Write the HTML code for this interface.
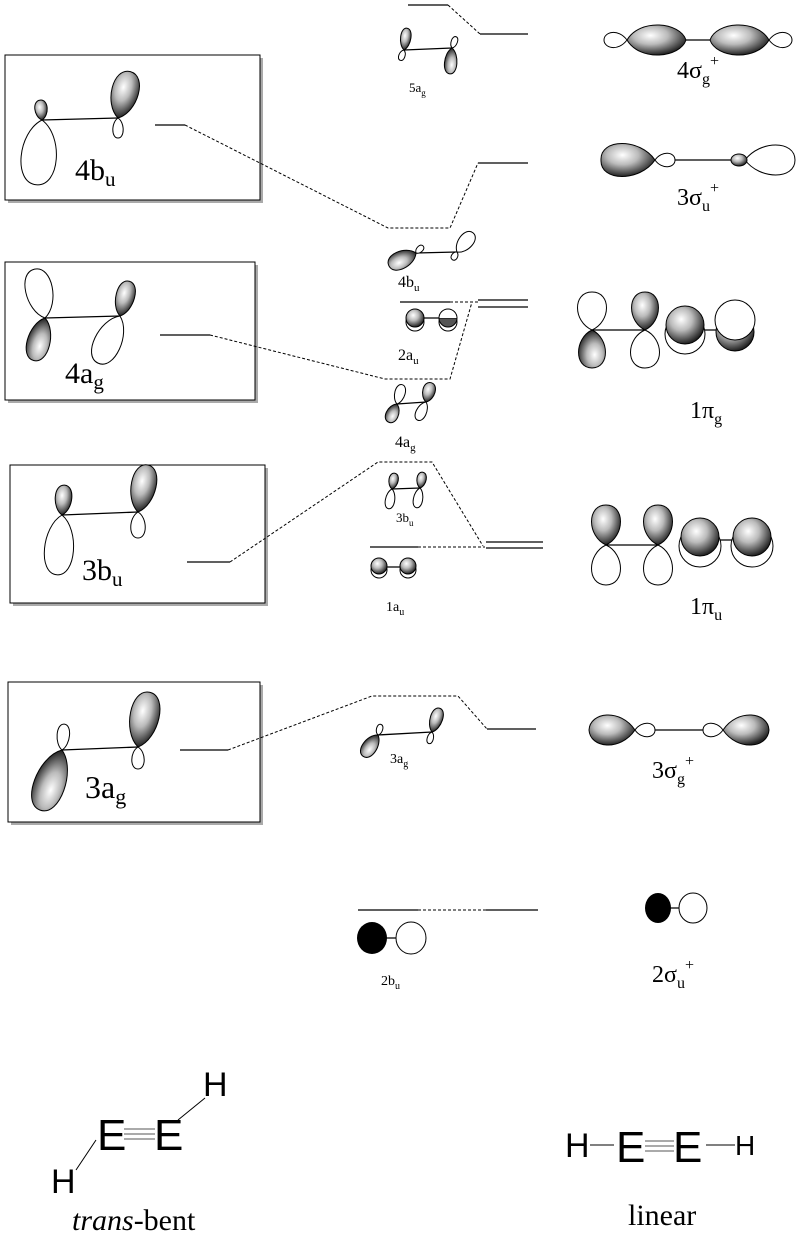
<!DOCTYPE html>
<html><head><meta charset="utf-8"><style>
html,body{margin:0;padding:0;background:#fff}
svg{display:block}
text{font-family:"Liberation Serif",serif;fill:#000}
.s{font-family:"Liberation Sans",sans-serif}
</style></head><body>
<svg width="800" height="1239" viewBox="0 0 800 1239" xmlns="http://www.w3.org/2000/svg">
<defs>
<radialGradient id="g" cx="40%" cy="35%" r="65%">
<stop offset="0" stop-color="#fff"/><stop offset="0.45" stop-color="#bbb"/><stop offset="1" stop-color="#222"/>
</radialGradient>
<path id="L" vector-effect="non-scaling-stroke" d="M0,0 C0.68,-0.22 0.7,-1 0,-1 C-0.7,-1 -0.68,-0.22 0,0Z"/>
</defs>
<style>
.f{fill:url(#g);stroke:#000;stroke-width:1}
.o{fill:#fff;stroke:#000;stroke-width:1}
.l{stroke:#000;stroke-width:1.3;fill:none}
.d{stroke:#000;stroke-width:1;stroke-dasharray:3,2;fill:none}
.bx{fill:#fff;stroke:#000;stroke-width:1}
</style>

<rect x="8" y="58" width="255" height="145" fill="#aaa"/><rect x="5" y="55" width="255" height="145" class="bx"/>
<rect x="8" y="265" width="250" height="138" fill="#aaa"/><rect x="5" y="262" width="250" height="138" class="bx"/>
<rect x="13" y="468" width="255" height="138" fill="#aaa"/><rect x="10" y="465" width="255" height="138" class="bx"/>
<rect x="11" y="685" width="252" height="140" fill="#aaa"/><rect x="8" y="682" width="252" height="140" class="bx"/>

<!-- Box 4bu -->
<line x1="42" y1="120" x2="118" y2="118" class="l"/>
<use href="#L" class="o" transform="translate(42,120) rotate(185) scale(34,65)"/>
<use href="#L" class="f" transform="translate(42,120) rotate(-5) scale(12,20)"/>
<use href="#L" class="o" transform="translate(118,118) rotate(180) scale(10,20)"/>
<use href="#L" class="f" transform="translate(118,118) rotate(15) scale(26,48)"/>
<text x="75" y="180" font-size="30">4b<tspan font-size="21" dy="6">u</tspan></text>

<!-- Box 4ag -->
<line x1="45" y1="318" x2="120" y2="316" class="l"/>
<use href="#L" class="o" transform="translate(45,318) rotate(-12) scale(26,50)"/>
<use href="#L" class="f" transform="translate(45,318) rotate(195) scale(22,44)"/>
<use href="#L" class="f" transform="translate(120,316) rotate(15) scale(18,36)"/>
<use href="#L" class="o" transform="translate(120,316) rotate(205) scale(26,52)"/>
<text x="65" y="383" font-size="30">4a<tspan font-size="21" dy="6">g</tspan></text>

<!-- Box 3bu -->
<line x1="62" y1="515" x2="138" y2="512" class="l"/>
<use href="#L" class="f" transform="translate(62,515) rotate(5) scale(16,30)"/>
<use href="#L" class="o" transform="translate(62,515) rotate(185) scale(28,60)"/>
<use href="#L" class="f" transform="translate(138,512) rotate(12) scale(24,48)"/>
<use href="#L" class="o" transform="translate(138,512) rotate(180) scale(14,26)"/>
<text x="82" y="580" font-size="30">3b<tspan font-size="21" dy="6">u</tspan></text>

<!-- Box 3ag -->
<line x1="62" y1="750" x2="138" y2="747" class="l"/>
<use href="#L" class="o" transform="translate(62,750) rotate(5) scale(12,26)"/>
<use href="#L" class="f" transform="translate(62,750) rotate(200) scale(30,64)"/>
<use href="#L" class="f" transform="translate(138,747) rotate(12) scale(28,56)"/>
<use href="#L" class="o" transform="translate(138,747) rotate(180) scale(12,22)"/>
<text x="85" y="798" font-size="32">3a<tspan font-size="22" dy="6">g</tspan></text>

<!-- level lines and connectors -->
<path d="M408,5 H448" class="l"/><path d="M448,5 L480,34" class="d"/><path d="M480,34 H528" class="l"/>
<path d="M155,125 H185" class="l"/><path d="M185,125 L388,228 H450 L478,163" class="d"/><path d="M478,163 H528" class="l"/>
<path d="M160,335 H210" class="l"/><path d="M210,335 L385,379 H450 L472,302" class="d"/>
<path d="M400,302 H450" class="l"/><path d="M450,302 H478" class="d"/>
<path d="M478,300 H528 M478,307 H528" class="l"/>
<path d="M187,562 H230" class="l"/><path d="M230,562 L378,462 H432 L483,546" class="d"/>
<path d="M370,547 H418" class="l"/><path d="M418,547 H485" class="d"/>
<path d="M486,542 H543 M486,548 H543" class="l"/>
<path d="M180,750 H228" class="l"/><path d="M228,750 L372,696 H458 L487,729" class="d"/><path d="M487,729 H536" class="l"/>
<path d="M358,910 H418" class="l"/><path d="M418,910 H486" class="d"/><path d="M486,910 H538" class="l"/>

<!-- 5ag -->
<line x1="404" y1="50" x2="452" y2="48" class="l"/>
<use href="#L" class="f" transform="translate(404,50) rotate(8) scale(10,22)"/>
<use href="#L" class="o" transform="translate(404,50) rotate(200) scale(6,11)"/>
<use href="#L" class="o" transform="translate(452,48) rotate(20) scale(6,12)"/>
<use href="#L" class="f" transform="translate(452,48) rotate(185) scale(12,26)"/>
<text x="409" y="92" font-size="13">5a<tspan font-size="9" dy="4">g</tspan></text>
<!-- 4bu -->
<line x1="416" y1="253" x2="457" y2="252" class="l"/>
<use href="#L" class="f" transform="translate(416,253) rotate(245) scale(17,30)"/>
<use href="#L" class="o" transform="translate(416,253) rotate(45) scale(6,10)"/>
<use href="#L" class="o" transform="translate(457,252) rotate(40) scale(14,25)"/>
<use href="#L" class="o" transform="translate(457,252) rotate(210) scale(6,9)"/>
<text x="398" y="287" font-size="16">4b<tspan font-size="11" dy="4">u</tspan></text>
<!-- 2au -->
<circle cx="415" cy="322" r="9" class="o"/><circle cx="448" cy="322" r="9" class="o"/>
<line x1="415" y1="318" x2="448" y2="318" class="l"/>
<circle cx="415" cy="318" r="9" class="f"/>
<path d="M439,318 A9,9 0 0 0 457,318Z" fill="#555" stroke="#000"/>
<path d="M439,318 A9,9 0 0 1 457,318" fill="#fff" stroke="#000"/>
<text x="398" y="360" font-size="16">2a<tspan font-size="11" dy="4">u</tspan></text>
<!-- 4ag small -->
<line x1="397" y1="404" x2="426" y2="402" class="l"/>
<use href="#L" class="o" transform="translate(397,404) rotate(15) scale(10,20)"/>
<use href="#L" class="f" transform="translate(397,404) rotate(205) scale(12,20)"/>
<use href="#L" class="f" transform="translate(426,402) rotate(15) scale(12,20)"/>
<use href="#L" class="o" transform="translate(426,402) rotate(205) scale(10,20)"/>
<text x="395" y="447" font-size="16">4a<tspan font-size="11" dy="4">g</tspan></text>
<!-- 3bu small -->
<line x1="392" y1="489" x2="420" y2="488" class="l"/>
<use href="#L" class="f" transform="translate(392,489) rotate(10) scale(9,16)"/>
<use href="#L" class="o" transform="translate(392,489) rotate(190) scale(9,20)"/>
<use href="#L" class="f" transform="translate(420,488) rotate(10) scale(9,16)"/>
<use href="#L" class="o" transform="translate(420,488) rotate(190) scale(9,20)"/>
<text x="396" y="522" font-size="13">3b<tspan font-size="9" dy="4">u</tspan></text>
<!-- 1au -->
<circle cx="379" cy="570" r="8" class="o"/><circle cx="408" cy="570" r="8" class="o"/>
<line x1="379" y1="567" x2="408" y2="567" class="l"/>
<circle cx="379" cy="566" r="8" class="f"/><circle cx="408" cy="566" r="8" class="f"/>
<text x="386" y="611" font-size="14">1a<tspan font-size="10" dy="4">u</tspan></text>
<!-- 3ag small -->
<line x1="378" y1="735" x2="432" y2="732" class="l"/>
<use href="#L" class="o" transform="translate(378,735) rotate(15) scale(6,11)"/>
<use href="#L" class="f" transform="translate(378,735) rotate(215) scale(14,26)"/>
<use href="#L" class="f" transform="translate(432,732) rotate(18) scale(12,25)"/>
<use href="#L" class="o" transform="translate(432,732) rotate(195) scale(6,12)"/>
<text x="390" y="763" font-size="14">3a<tspan font-size="10" dy="4">g</tspan></text>
<!-- 2bu -->
<line x1="372" y1="938" x2="410" y2="938" class="l"/>
<ellipse cx="372" cy="938" rx="15" ry="16" fill="#000"/>
<ellipse cx="411" cy="938" rx="15" ry="16" class="o"/>
<text x="381" y="985" font-size="14">2b<tspan font-size="10" dy="4">u</tspan></text>

<!-- 4sg+ -->
<path d="M627,40 C618,28 604,32 604,40 C604,48 618,52 627,40Z" class="o"/>
<path d="M769,40 C778,28 792,32 792,40 C792,48 778,52 769,40Z" class="o"/>
<line x1="680" y1="40" x2="712" y2="40" class="l"/>
<path d="M627,40 C640,18 680,22 686,40 C680,58 640,62 627,40Z" class="f"/>
<path d="M769,40 C756,18 716,22 710,40 C716,58 756,62 769,40Z" class="f"/>
<text x="677" y="78" font-size="24">4σ<tspan font-size="16" dy="6">g</tspan><tspan font-size="16" dy="-18">+</tspan></text>
<!-- 3su+ -->
<path d="M655,160 C662,150 675,152 675,160 C675,168 662,170 655,160Z" class="o"/>
<line x1="675" y1="160" x2="732" y2="160" class="l"/>
<path d="M745,160 C760,140 795,140 795,160 C795,180 760,180 745,160Z" class="o"/>
<ellipse cx="739" cy="160" rx="8" ry="6" class="f"/>
<path d="M655,160 C640,138 600,138 601,160 C600,182 640,182 655,160Z" class="f"/>
<text x="677" y="205" font-size="24">3σ<tspan font-size="16" dy="6">u</tspan><tspan font-size="16" dy="-18">+</tspan></text>
<!-- 1pg -->
<line x1="592" y1="330" x2="645" y2="330" class="l"/>
<use href="#L" class="o" transform="translate(592,330) scale(28,38)"/>
<use href="#L" class="f" transform="translate(592,330) rotate(180) scale(26,38)"/>
<use href="#L" class="f" transform="translate(645,330) scale(26,38)"/>
<use href="#L" class="o" transform="translate(645,330) rotate(180) scale(28,38)"/>
<line x1="685" y1="330" x2="735" y2="330" class="l"/>
<circle cx="685" cy="334" r="20" class="o"/>
<circle cx="685" cy="325" r="19" class="f"/>
<circle cx="735" cy="332" r="19" class="f"/>
<circle cx="735" cy="320" r="20" class="o"/>
<text x="690" y="418" font-size="24">1π<tspan font-size="16" dy="6">g</tspan></text>
<!-- 1pu -->
<line x1="606" y1="545" x2="658" y2="545" class="l"/>
<use href="#L" class="f" transform="translate(606,545) scale(28,40)"/>
<use href="#L" class="o" transform="translate(606,545) rotate(180) scale(28,40)"/>
<use href="#L" class="f" transform="translate(658,545) scale(28,40)"/>
<use href="#L" class="o" transform="translate(658,545) rotate(180) scale(28,40)"/>
<line x1="700" y1="540" x2="752" y2="540" class="l"/>
<circle cx="700" cy="546" r="21" class="o"/><circle cx="700" cy="537" r="19" class="f"/>
<circle cx="752" cy="546" r="21" class="o"/><circle cx="752" cy="537" r="19" class="f"/>
<text x="690" y="614" font-size="24">1π<tspan font-size="16" dy="6">u</tspan></text>
<!-- 3sg+ -->
<path d="M635,730 C642,720 655,722 655,730 C655,738 642,740 635,730Z" class="o"/>
<path d="M723,730 C716,720 703,722 703,730 C703,738 716,740 723,730Z" class="o"/>
<line x1="655" y1="730" x2="703" y2="730" class="l"/>
<path d="M635,730 C620,708 590,712 589,730 C590,748 620,752 635,730Z" class="f"/>
<path d="M723,730 C738,708 768,712 769,730 C768,748 738,752 723,730Z" class="f"/>
<text x="652" y="778" font-size="24">3σ<tspan font-size="16" dy="6">g</tspan><tspan font-size="16" dy="-18">+</tspan></text>
<!-- 2su+ -->
<line x1="658" y1="908" x2="692" y2="908" class="l"/>
<ellipse cx="658" cy="908" rx="13" ry="15" fill="#000"/>
<ellipse cx="693" cy="908" rx="14" ry="15" class="o"/>
<text x="652" y="982" font-size="24">2σ<tspan font-size="16" dy="6">u</tspan><tspan font-size="16" dy="-18">+</tspan></text>

<!-- structures -->
<text x="97" y="1150" font-size="44" class="s">E</text>
<text x="154" y="1150" font-size="44" class="s">E</text>
<text x="203" y="1096" font-size="34" class="s">H</text>
<text x="51" y="1193" font-size="34" class="s">H</text>
<text x="565" y="1157" font-size="34" class="s">H</text>
<text x="616" y="1162" font-size="44" class="s">E</text>
<text x="673" y="1162" font-size="44" class="s">E</text>
<text x="735" y="1155" font-size="28" class="s">H</text>
<path d="M124,1129 H155 M124,1134 H155 M124,1139 H155" stroke="#555" stroke-width="1"/>
<path d="M178,1120 L205,1098 M96,1140 L76,1170" stroke="#000" stroke-width="1"/>
<path d="M645,1141 H674 M645,1146 H674 M645,1151 H674" stroke="#555" stroke-width="1"/>
<path d="M590,1145 H614 M706,1145 H735" stroke="#000" stroke-width="1"/>
<text x="72" y="1230" font-size="30"><tspan font-style="italic">trans</tspan>-bent</text>
<text x="628" y="1225" font-size="30">linear</text>
</svg>
</body></html>
